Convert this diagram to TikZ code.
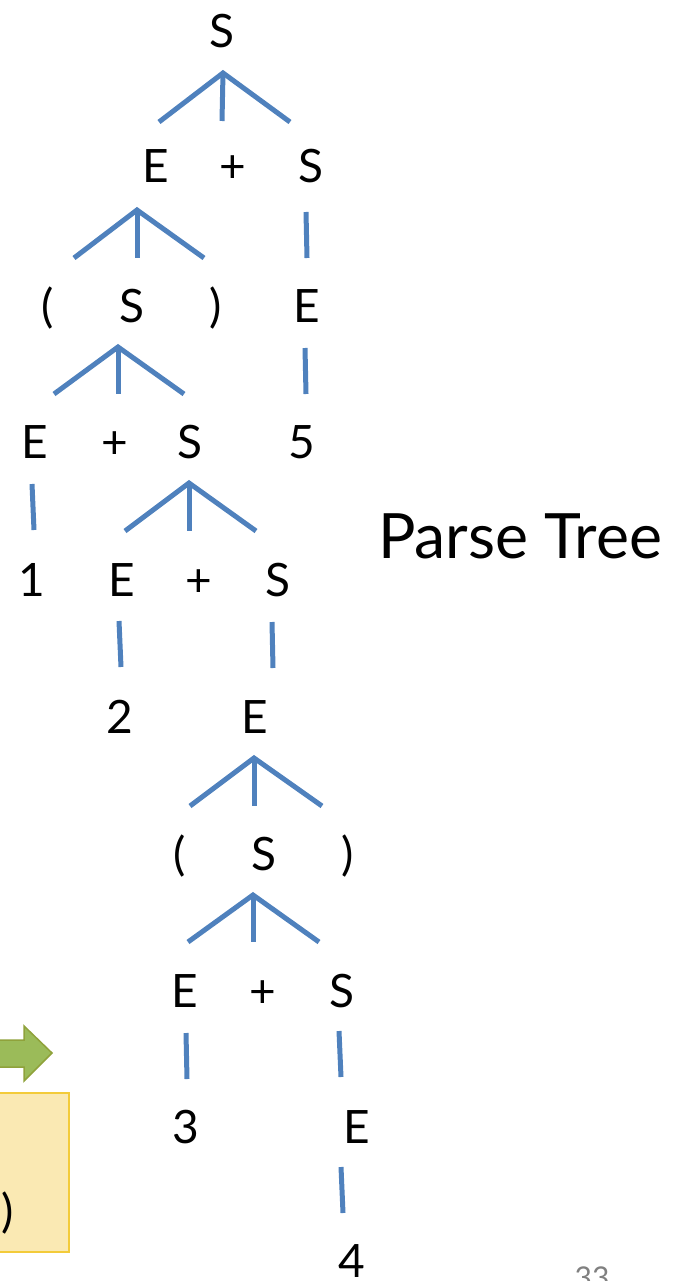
\documentclass[tikz,border=0pt]{standalone}
\usepackage{fontspec}
\setmainfont{Lato}
\definecolor{branch}{HTML}{4F81BD}
\definecolor{arrowfill}{HTML}{9BBB59}
\definecolor{arrowline}{HTML}{8FA23B}
\definecolor{boxfill}{HTML}{FAE9B3}
\definecolor{boxline}{HTML}{F3CB3A}
\begin{document}
\begin{tikzpicture}[x=1pt,y=-1pt,
  sym/.style={anchor=base, inner sep=0pt, font=\fontsize{46}{50}\selectfont},
  br/.style={draw=branch, line width=5pt},
  title/.style={anchor=base west, inner sep=0pt, font=\fontsize{62.5}{70}\selectfont},
  pagenum/.style={anchor=base, inner sep=0pt, text=gray, font=\fontsize{30}{34}\selectfont}]
\clip (0,0) rectangle (682,1281);
% tree symbols
\node[sym] (s0) at (222,48) {S};
\node[sym] (e1) at (156,183) {E};
\node[sym] (p1) at (233,183) {+};
\node[sym] (s1) at (311,183) {S};
\node[sym] (lp1) at (48,322) {(};
\node[sym] (s2) at (132,322) {S};
\node[sym] (rp1) at (216,322) {)};
\node[sym] (e2) at (307,322) {E};
\node[sym] (e3) at (35,458) {E};
\node[sym] (p2) at (115,458) {+};
\node[sym] (s3) at (190,458) {S};
\node[sym] (n5) at (302,458) {5};
\node[sym] (n1) at (32,596) {1};
\node[sym] (e4) at (122,596) {E};
\node[sym] (p3) at (199,596) {+};
\node[sym] (s4) at (278,596) {S};
\node[sym] (n2) at (120,733) {2};
\node[sym] (e5) at (255,733) {E};
\node[sym] (lp2) at (180,870) {(};
\node[sym] (s5) at (264,870) {S};
\node[sym] (rp2) at (348,870) {)};
\node[sym] (e6) at (185,1007) {E};
\node[sym] (p4) at (263,1007) {+};
\node[sym] (s6) at (342,1007) {S};
\node[sym] (n3) at (186,1143) {3};
\node[sym] (e7) at (357,1143) {E};
\node[sym] (n4) at (352,1277) {4};
\node[title] (pt) at (378,558) {Parse Tree};
\node[pagenum] (pg) at (592,1288) {33};
% branch points
\coordinate (a1) at (223,73);
\coordinate (a1l) at (159,122); \coordinate (a1m) at (222,121); \coordinate (a1r) at (290,122);
\coordinate (a2) at (137,210);
\coordinate (a2l) at (74,258); \coordinate (a2m) at (137,258); \coordinate (a2r) at (204,258);
\coordinate (b1t) at (306,212); \coordinate (b1b) at (307,258);
\coordinate (a3) at (118,347);
\coordinate (a3l) at (54,394); \coordinate (a3m) at (118,394); \coordinate (a3r) at (184,394);
\coordinate (b2t) at (305,348); \coordinate (b2b) at (306,394);
\coordinate (b3t) at (32,484); \coordinate (b3b) at (34,530);
\coordinate (a4) at (189,483);
\coordinate (a4l) at (125,531); \coordinate (a4m) at (189,531); \coordinate (a4r) at (256,531);
\coordinate (b4t) at (119,621); \coordinate (b4b) at (121,667);
\coordinate (b5t) at (272,622); \coordinate (b5b) at (273,668);
\coordinate (a5) at (254,758);
\coordinate (a5l) at (190,806); \coordinate (a5m) at (254,806); \coordinate (a5r) at (322,806);
\coordinate (a6) at (253,895);
\coordinate (a6l) at (188,942); \coordinate (a6m) at (253,942); \coordinate (a6r) at (319,942);
\coordinate (b6t) at (186,1033); \coordinate (b6b) at (187,1079);
\coordinate (b7t) at (339,1031); \coordinate (b7b) at (341,1077);
\coordinate (b8t) at (341,1167); \coordinate (b8b) at (343,1213);
% branches
\draw[br] (a1l) -- (a1) -- (a1r); \draw[br] (a1) -- (a1m);
\draw[br] (a2l) -- (a2) -- (a2r); \draw[br] (a2) -- (a2m);
\draw[br] (b1t) -- (b1b);
\draw[br] (a3l) -- (a3) -- (a3r); \draw[br] (a3) -- (a3m);
\draw[br] (b2t) -- (b2b);
\draw[br] (b3t) -- (b3b);
\draw[br] (a4l) -- (a4) -- (a4r); \draw[br] (a4) -- (a4m);
\draw[br] (b4t) -- (b4b);
\draw[br] (b5t) -- (b5b);
\draw[br] (a5l) -- (a5) -- (a5r); \draw[br] (a5) -- (a5m);
\draw[br] (a6l) -- (a6) -- (a6r); \draw[br] (a6) -- (a6m);
\draw[br] (b6t) -- (b6b);
\draw[br] (b7t) -- (b7b);
\draw[br] (b8t) -- (b8b);
% green arrow
\draw[fill=arrowfill, draw=arrowline, line width=1.5pt]
  (-10,1040) -- (24,1040) -- (24,1026) -- (52,1053) -- (24,1081) -- (24,1067) -- (-10,1067) -- cycle;
% yellow box
\draw[fill=boxfill, draw=boxline, line width=1.5pt] (-10,1093) rectangle (69,1252);
\node[sym] (bp) at (8,1227) {)};
\end{tikzpicture}
\end{document}
